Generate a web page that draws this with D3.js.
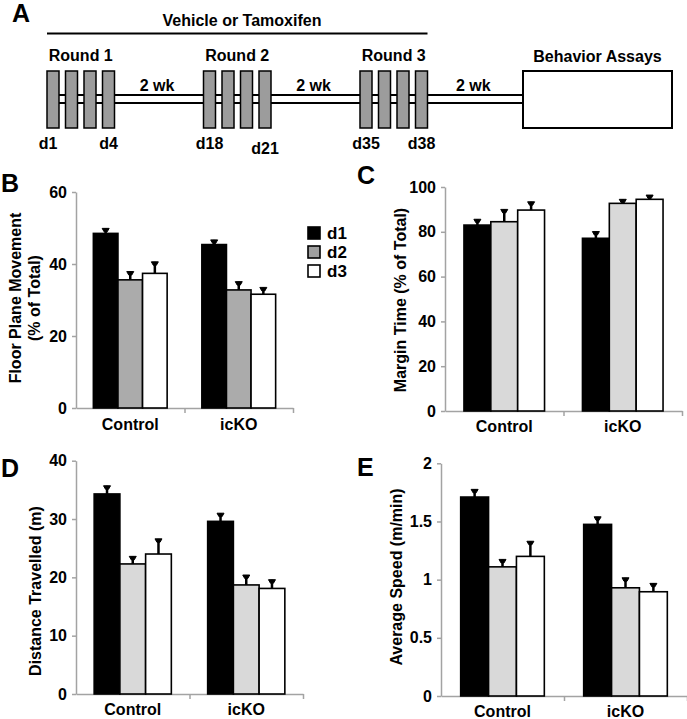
<!DOCTYPE html>
<html><head><meta charset="utf-8">
<script src="https://cdn.jsdelivr.net/npm/d3@7"></script>
<style>
body{margin:0;background:#fff}
text{font-family:"Liberation Sans",Arial,Helvetica,sans-serif;font-weight:bold;fill:#000}
</style>
</head><body>
<svg id="chart" width="687" height="719"></svg>
<script>
// ---------- Data ----------
const groups = ["Control", "icKO"];
const days = ["d1", "d2", "d3"];

// B: Floor Plane Movement (% of Total)
const floorControl = [48.5, 35.6, 37.4];
const floorControlErr = [1.4, 2.3, 3.2];
const floorIcko = [45.4, 32.8, 31.6];
const floorIckoErr = [1.3, 2.3, 1.9];
const floorTicks = [0, 20, 40, 60];

// C: Margin Time (% of Total)
const marginControl = [83.0, 84.5, 89.7];
const marginControlErr = [2.6, 5.5, 3.7];
const marginIcko = [77.1, 92.7, 94.5];
const marginIckoErr = [3.0, 1.8, 1.9];
const marginTicks = [0, 20, 40, 60, 80, 100];

// D: Distance Travelled (m)
const distControl = [34.3, 22.3, 24.0];
const distControlErr = [1.4, 1.3, 2.6];
const distIcko = [29.6, 18.7, 18.1];
const distIckoErr = [1.4, 1.7, 1.5];
const distTicks = [0, 10, 20, 30, 40];

// E: Average Speed (m/min)
const speedControl = [1.71, 1.11, 1.20];
const speedControlErr = [0.066, 0.064, 0.13];
const speedIcko = [1.475, 0.93, 0.896];
const speedIckoErr = [0.065, 0.086, 0.072];
const speedTicks = [0, 0.5, 1, 1.5, 2];

// A: schedule schematic
const roundLabels = ["Round 1", "Round 2", "Round 3"];
const roundStartDays = [1, 18, 35];
const firstDayLabels = ["d1", "d18", "d35"];
const lastDayLabels = ["d4", "d21", "d38"];
const injectionsPerRound = 4;
const gapLabels = ["2 wk", "2 wk", "2 wk"];
const bracketLabel = "Vehicle or Tamoxifen";
const assayLabel = "Behavior Assays";

// ---------- Drawing ----------
const svg = d3.select("#chart");
const AXIS = "#a3a3a3";

// Panel A
(function(){
  const g = svg.append("g");
  g.append("text").attr("x", 12).attr("y", 22).attr("font-size", 25).text("A");
  const xDay = d3.scaleLinear().domain([1, 35]).range([47, 360]);
  const step = 18.5, rw = 12, top = 71, bot = 128;
  const boxX0 = 523, boxX1 = 672;
  const roundEnd = s => xDay(s) + (injectionsPerRound - 1) * step + rw;

  // bracket
  g.append("line").attr("x1", xDay(roundStartDays[0])).attr("x2", roundEnd(roundStartDays[2]))
    .attr("y1", 33.5).attr("y2", 33.5).attr("stroke", "#000").attr("stroke-width", 2);
  g.append("text").attr("x", 242).attr("y", 25.5).attr("text-anchor", "middle")
    .attr("font-size", 16).text(bracketLabel);

  // double line
  [95, 103].forEach(y => g.append("line").attr("x1", xDay(roundStartDays[0])).attr("x2", boxX0)
    .attr("y1", y).attr("y2", y).attr("stroke", "#000").attr("stroke-width", 2));

  roundStartDays.forEach((s, r) => {
    const x0 = xDay(s);
    for (let i = 0; i < injectionsPerRound; i++) {
      g.append("rect").attr("x", x0 + i * step).attr("y", top).attr("width", rw).attr("height", bot - top)
        .attr("fill", "#9c9c9c").attr("stroke", "#000").attr("stroke-width", 1.5);
    }
    g.append("text").attr("x", (x0 + roundEnd(s)) / 2).attr("y", 60.5).attr("text-anchor", "middle")
      .attr("font-size", 16).text(roundLabels[r]);
    g.append("text").attr("x", x0 + rw / 2 - (r === 0 ? 5 : 0)).attr("y", 149).attr("text-anchor", "middle")
      .attr("font-size", 16).text(firstDayLabels[r]);
    g.append("text").attr("x", x0 + (injectionsPerRound - 1) * step + rw / 2).attr("y", r === 1 ? 154 : 149)
      .attr("text-anchor", "middle").attr("font-size", 16).text(lastDayLabels[r]);
    const gapEnd = r < roundStartDays.length - 1 ? xDay(roundStartDays[r + 1]) : boxX0;
    g.append("text").attr("x", (roundEnd(s) + gapEnd) / 2 - 2).attr("y", 91).attr("text-anchor", "middle")
      .attr("font-size", 16).text(gapLabels[r]);
  });

  g.append("rect").attr("x", boxX0).attr("y", top).attr("width", boxX1 - boxX0).attr("height", bot - top)
    .attr("fill", "#fff").attr("stroke", "#000").attr("stroke-width", 2);
  g.append("text").attr("x", (boxX0 + boxX1) / 2).attr("y", 62).attr("text-anchor", "middle")
    .attr("font-size", 16).text(assayLabel);
})();

function drawPanel(o) {
  const g = svg.append("g");
  const y = d3.scaleLinear().domain([0, o.max]).range([o.y0, o.y1]);
  const xb = d3.scaleBand().domain(groups).range([o.x0, o.x1]).padding(0);
  const frac = 0.68;
  const xi = d3.scaleBand().domain(days).range([0, xb.bandwidth() * frac]).padding(0);
  const off = xb.bandwidth() * (1 - frac) / 2;
  const fills = ["#000", o.d2, "#fff"];
  const vals = [o.ctrl, o.icko], errs = [o.ctrlErr, o.ickoErr];

  // axes
  const ya = g.append("g").attr("transform", `translate(${o.x0},0)`)
    .call(d3.axisLeft(y).tickValues(o.ticks).tickSize(4).tickSizeOuter(0).tickPadding(5).tickFormat(o.fmt));
  ya.select(".domain").attr("stroke", AXIS).attr("stroke-width", 1.5);
  ya.selectAll(".tick line").attr("stroke", AXIS).attr("stroke-width", 1.5);
  ya.selectAll(".tick text").attr("font-size", 16).attr("font-family", null).attr("fill", "#000");

  const xl = d3.scaleLinear().domain([0, groups.length]).range([o.x0, o.x1]);
  const xa = g.append("g").attr("transform", `translate(0,${o.y0})`)
    .call(d3.axisBottom(xl).tickValues(d3.range(1, groups.length + 1)).tickSize(5).tickSizeOuter(0).tickFormat(""));
  xa.select(".domain").attr("stroke", AXIS).attr("stroke-width", 1.5);
  xa.selectAll(".tick line").attr("stroke", AXIS).attr("stroke-width", 1.5);

  groups.forEach((grp, gi) => {
    days.forEach((d, di) => {
      const v = vals[gi][di], e = errs[gi][di];
      const bx = xb(grp) + off + xi(d), bw = xi.bandwidth();
      g.append("rect").attr("x", bx).attr("y", y(v)).attr("width", bw).attr("height", y(0) - y(v))
        .attr("fill", fills[di]).attr("stroke", "#000").attr("stroke-width", 1.6);
      const cx = bx + bw / 2;
      g.append("line").attr("x1", cx).attr("x2", cx).attr("y1", y(v)).attr("y2", y(v + e))
        .attr("stroke", "#000").attr("stroke-width", 2.5);
      g.append("path").attr("d", `M${cx - 3.5},${y(v + e)}h7l-2,3.5h-3z`).attr("fill", "#000")
        .attr("stroke", "#000").attr("stroke-width", 1);
    });
    g.append("text").attr("x", xb(grp) + xb.bandwidth() / 2).attr("y", o.y0 + o.catDy)
      .attr("text-anchor", "middle").attr("font-size", 16).text(grp);
  });

  // title
  o.title.forEach((t, i) => {
    g.append("text").attr("transform", `translate(${o.titleX[i]},${o.titleY}) rotate(-90)`)
      .attr("text-anchor", "middle").attr("font-size", 16).text(t);
  });
  // panel letter
  g.append("text").attr("x", o.lx).attr("y", o.ly).attr("font-size", 25).text(o.letter);
  return g;
}

const fmtInt = d3.format("d");
const fmtSpeed = d => String(d);

drawPanel({letter: "B", lx: 1, ly: 192, x0: 76, x1: 293, y0: 408, y1: 192, max: 60, catDy: 22,
  ticks: floorTicks, fmt: fmtInt, d2: "#ababab",
  ctrl: floorControl, ctrlErr: floorControlErr, icko: floorIcko, ickoErr: floorIckoErr,
  title: ["Floor Plane Movement", "(% of Total)"], titleX: [21, 40], titleY: 298});

drawPanel({letter: "C", lx: 357, ly: 184, x0: 445, x1: 682, y0: 411, y1: 187, max: 100, catDy: 21,
  ticks: marginTicks, fmt: fmtInt, d2: "#d9d9d9",
  ctrl: marginControl, ctrlErr: marginControlErr, icko: marginIcko, ickoErr: marginIckoErr,
  title: ["Margin Time (% of Total)"], titleX: [406], titleY: 300});

drawPanel({letter: "D", lx: 1, ly: 477, x0: 76, x1: 303, y0: 694, y1: 460.7, max: 40, catDy: 21,
  ticks: distTicks, fmt: fmtInt, d2: "#d9d9d9",
  ctrl: distControl, ctrlErr: distControlErr, icko: distIcko, ickoErr: distIckoErr,
  title: ["Distance Travelled (m)"], titleX: [41], titleY: 591});

drawPanel({letter: "E", lx: 357, ly: 476, x0: 441, x1: 687, y0: 696, y1: 463.3, max: 2, catDy: 21,
  ticks: speedTicks, fmt: fmtSpeed, d2: "#d9d9d9",
  ctrl: speedControl, ctrlErr: speedControlErr, icko: speedIcko, ickoErr: speedIckoErr,
  title: ["Average Speed (m/min)"], titleX: [402], titleY: 577});

// Legend (panel B)
const lg = svg.append("g");
const legendFills = ["#000", "#a0a0a0", "#fff"];
days.forEach((d, i) => {
  lg.append("rect").attr("x", 308).attr("y", 227 + i * 19).attr("width", 12).attr("height", 12)
    .attr("fill", legendFills[i]).attr("stroke", "#000").attr("stroke-width", 1.6);
  lg.append("text").attr("x", 327).attr("y", 239 + i * 19).attr("font-size", 17).text(d);
});
</script>
</body></html>
